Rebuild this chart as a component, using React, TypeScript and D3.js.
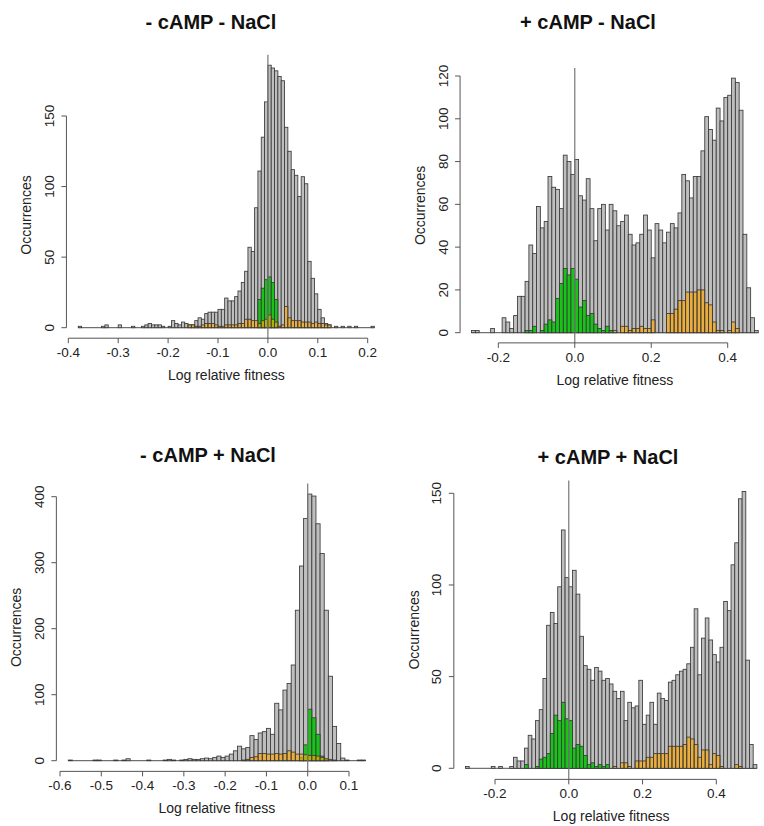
import React from "react";
import * as d3 from "d3";

// ---------- DATA ----------
// Panel 1: - cAMP - NaCl  (bin width 1/150)
const P1_BIN_W = 1 / 150;
const P1_START = -57 / 150;
const P1_GRAY = [1,0,0,0,0,0,0,1,2,0, 0,0,2,0,0,0,1,0,0,1, 2,3,2,2,2,1,0,1,5,3, 2,4,3,2,2,5,7,6,10,11, 11,11,13,13,21,19,19,22,26,32, 40,57,54,85,111,135,160,186,184,182, 178,175,142,125,112,108,93,107,102,47, 35,24,13,7,3,2,0,1,0,1, 0,1,0,1,0,0,0,0,1];
const P1_GREEN_START = -3 / 150;
const P1_GREEN = [20,28,34,36,32,20];
const P1_ORANGE_START = -24 / 150;
const P1_ORANGE = [2,2,1,1,2,3,3,3,2,1, 1,2,2,2,2,3,3,6,6,5, 5,3,5,6,9,6,4,1,2,15, 7,5,5,5,4,4,4,3,4,3, 3,2,2];

// Panel 2: + cAMP - NaCl (bin width 0.01)
const P2_BIN_W = 0.01;
const P2_START = -0.27;
const P2_GRAY = [1,1,0,0,0,2,0,0,7,5, 2,8,17,17,24,41,37,59,49,52, 73,68,67,58,83,80,74,81,64,62, 72,58,43,58,60,48,60,57,50,52, 55,46,41,42,46,55,48,35,51,48, 42,47,51,49,56,74,71,63,73,73, 85,101,95,90,105,99,110,111,119,117, 104,46,21,7,1];
const P2_GREEN_START = -0.13;
const P2_GREEN = [1,1,3,0,1,4,6,5,16,23, 30,27,30,25,12,15,8,9,4,2, 1,3,1];
const P2_ORANGE_START = 0.10;
const P2_ORANGE = [1,0,3,3,1,2,2,3,2,2, 6,0,0,0,9,9,11,15,15,19, 19,19,20,20,14,13,5,1,1,0, 1,5,2];

// Panel 3: - cAMP + NaCl (bin width 0.01)
const P3_BIN_W = 0.01;
const P3_START = -0.58;
const P3_GRAY = [1,0,0,0,0,0,1,1,0,0, 0,1,0,1,3,0,0,0,0,1, 0,0,0,1,2,1,0,1,2,3, 2,2,3,4,3,5,7,5,7,10, 15,22,18,20,38,32,42,44,49,40, 87,77,107,117,145,228,295,367,404,401, 359,314,228,128,52,26,4,1,0,0, 1,1];
const P3_GREEN_START = -0.02;
const P3_GREEN = [5,24,78,65,40,7,2];
const P3_ORANGE_START = -0.16;
const P3_ORANGE = [1,2,5,6,11,11,10,10,11,10, 11,15,13,10,10,9,8,8,7,5, 3,2,1];

// Panel 4: + cAMP + NaCl (bin width 0.01)
const P4_BIN_W = 0.01;
const P4_START = -0.28;
const P4_GRAY = [1,0,0,0,0,0,0,1,0,1, 0,0,1,6,4,4,11,18,16,26, 32,49,78,85,79,99,130,104,99,108, 95,72,56,54,48,55,53,48,49,46, 42,38,42,26,36,33,34,48,24,29, 36,24,41,38,37,47,48,51,53,54, 57,66,87,51,71,82,70,62,58,66, 91,86,111,123,147,151,59,13,2];
const P4_GREEN_START = -0.12;
const P4_GREEN = [2,0,0,1,5,6,8,19,29,26, 36,27,26,11,13,12,7,2,3,1, 2,1,2];
const P4_ORANGE_START = 0.12;
const P4_ORANGE = [1,0,3,3,1,0,4,4,4,6, 6,8,8,8,8,12,12,12,12,13, 17,16,13,6,10,10,2,8,7,1, 0,0,0,2,1];

// Tick values
const X_TICKS_1 = [-0.4, -0.3, -0.2, -0.1, 0, 0.1, 0.2];
const Y_TICKS_1 = [0, 50, 100, 150];
const X_TICKS_2 = [-0.2, 0, 0.2, 0.4];
const Y_TICKS_2 = [0, 20, 40, 60, 80, 100, 120];
const X_TICKS_3 = [-0.6, -0.5, -0.4, -0.3, -0.2, -0.1, 0, 0.1];
const Y_TICKS_3 = [0, 100, 200, 300, 400];
const X_TICKS_4 = [-0.2, 0, 0.2, 0.4];
const Y_TICKS_4 = [0, 50, 100, 150];

const TITLES = ["- cAMP - NaCl", "+ cAMP - NaCl", "- cAMP + NaCl", "+ cAMP + NaCl"];
const X_LABEL = "Log relative fitness";
const Y_LABEL = "Occurrences";

// ---------- STYLE ----------
const FONT = "'Liberation Sans', Arial, sans-serif";
const GRAY_FILL = "#bebebe";
const BAR_STROKE = "#3a3a3a";
const GREEN_FILL = "#19c419";
const ORANGE_FILL = "rgba(255,165,0,0.66)";
const AXIS_COLOR = "#555";
const TEXT_COLOR = "#222";

type Series = { start: number; values: number[] };

type PanelProps = {
  title: string;
  binW: number;
  gray: Series;
  green: Series;
  orange: Series;
  xTicks: number[];
  yTicks: number[];
  xRef: [number, number, number, number];
  yRef: [number, number, number, number];
  titlePos: [number, number];
  yLabelY?: number;
};

function Bars({ s, binW, x, y, fill }: { s: Series; binW: number; x: any; y: any; fill: string }) {
  return (
    <g>
      {s.values.map((c, i) => {
        if (c <= 0) return null;
        const x0 = x(s.start + i * binW);
        const x1 = x(s.start + (i + 1) * binW);
        return (
          <rect
            key={i}
            x={x0}
            y={y(c)}
            width={x1 - x0}
            height={y(0) - y(c)}
            fill={fill}
            stroke={BAR_STROKE}
            strokeWidth={0.85}
          />
        );
      })}
    </g>
  );
}

function Panel(p: PanelProps) {
  const x = d3.scaleLinear().domain([p.xRef[0], p.xRef[2]]).range([p.xRef[1], p.xRef[3]]);
  const y = d3.scaleLinear().domain([p.yRef[0], p.yRef[2]]).range([p.yRef[1], p.yRef[3]]);
  const n = p.gray.values.length;
  const dMin = p.gray.start;
  const dMax = p.gray.start + n * p.binW;
  const ext = 0.04 * (dMax - dMin);
  const ymax = d3.max(p.gray.values) as number;
  const plotLeft = x(dMin - ext);
  const plotRight = x(dMax + ext);
  const plotTop = y(ymax * 1.04);
  const plotBottom = y(-ymax * 0.04);
  const midY = p.yLabelY ?? (plotTop + plotBottom) / 2;
  const midX = (plotLeft + plotRight) / 2;
  const fmt = (v: number) => (Math.abs(v) < 1e-9 ? "0.0" : v.toFixed(1));
  const xt0 = x(p.xTicks[0]);
  const xt1 = x(p.xTicks[p.xTicks.length - 1]);
  const yt1 = y(p.yTicks[p.yTicks.length - 1]);
  return (
    <g>
      <text x={p.titlePos[0]} y={p.titlePos[1]} textAnchor="middle" fontFamily={FONT} fontWeight="bold" fontSize={20} fill="#111">
        {p.title}
      </text>
      <line x1={x(dMin)} x2={x(dMax)} y1={y(0)} y2={y(0)} stroke={BAR_STROKE} strokeWidth={0.9} />
      <Bars s={p.gray} binW={p.binW} x={x} y={y} fill={GRAY_FILL} />
      <Bars s={p.green} binW={p.binW} x={x} y={y} fill={GREEN_FILL} />
      <Bars s={p.orange} binW={p.binW} x={x} y={y} fill={ORANGE_FILL} />
      <line x1={x(0)} x2={x(0)} y1={plotTop} y2={plotBottom} stroke="#777" strokeWidth={1.2} />
      <line x1={xt0} x2={xt1} y1={plotBottom} y2={plotBottom} stroke={AXIS_COLOR} strokeWidth={1} />
      {p.xTicks.map((t, i) => (
        <g key={"xt" + i}>
          <line x1={x(t)} x2={x(t)} y1={plotBottom} y2={plotBottom + 5} stroke={AXIS_COLOR} strokeWidth={1} />
          <text x={x(t)} y={plotBottom + 19} textAnchor="middle" fontFamily={FONT} fontSize={13.5} fill={TEXT_COLOR}>
            {fmt(t)}
          </text>
        </g>
      ))}
      <text x={midX} y={plotBottom + 42} textAnchor="middle" fontFamily={FONT} fontSize={14} fill={TEXT_COLOR}>
        {X_LABEL}
      </text>
      <line x1={plotLeft} x2={plotLeft} y1={y(0)} y2={yt1} stroke={AXIS_COLOR} strokeWidth={1} />
      {p.yTicks.map((t, i) => (
        <g key={"yt" + i}>
          <line x1={plotLeft} x2={plotLeft - 5} y1={y(t)} y2={y(t)} stroke={AXIS_COLOR} strokeWidth={1} />
          <text
            transform={`translate(${plotLeft - 12.5},${y(t)}) rotate(-90)`}
            textAnchor="middle"
            fontFamily={FONT}
            fontSize={13.5}
            fill={TEXT_COLOR}
          >
            {String(t)}
          </text>
        </g>
      ))}
      <text
        transform={`translate(${plotLeft - 35},${midY}) rotate(-90)`}
        textAnchor="middle"
        fontFamily={FONT}
        fontSize={14}
        fill={TEXT_COLOR}
      >
        {Y_LABEL}
      </text>
    </g>
  );
}

export default function App() {
  return (
    <svg
      width={764}
      height={826}
      viewBox="0 0 764 826"
      style={{ position: "absolute", left: 0, top: 0, background: "#fff" }}
    >
      <rect x={0} y={0} width={764} height={826} fill="#fff" />
      <Panel
        title={TITLES[0]}
        binW={P1_BIN_W}
        gray={{ start: P1_START, values: P1_GRAY }}
        green={{ start: P1_GREEN_START, values: P1_GREEN }}
        orange={{ start: P1_ORANGE_START, values: P1_ORANGE }}
        xTicks={X_TICKS_1}
        yTicks={Y_TICKS_1}
        xRef={[-0.4, 68.3, 0.2, 367.7]}
        yRef={[0, 327.7, 150, 116]}
        titlePos={[211, 29]}
        yLabelY={215}
      />
      <Panel
        title={TITLES[1]}
        binW={P2_BIN_W}
        gray={{ start: P2_START, values: P2_GRAY }}
        green={{ start: P2_GREEN_START, values: P2_GREEN }}
        orange={{ start: P2_ORANGE_START, values: P2_ORANGE }}
        xTicks={X_TICKS_2}
        yTicks={Y_TICKS_2}
        xRef={[-0.2, 498.3, 0.4, 727.7]}
        yRef={[0, 332.7, 120, 76]}
        titlePos={[588, 29]}
      />
      <Panel
        title={TITLES[2]}
        binW={P3_BIN_W}
        gray={{ start: P3_START, values: P3_GRAY }}
        green={{ start: P3_GREEN_START, values: P3_GREEN }}
        orange={{ start: P3_ORANGE_START, values: P3_ORANGE }}
        xTicks={X_TICKS_3}
        yTicks={Y_TICKS_3}
        xRef={[-0.6, 60, 0.1, 349]}
        yRef={[0, 760.7, 400, 496.7]}
        titlePos={[208, 462]}
      />
      <Panel
        title={TITLES[3]}
        binW={P4_BIN_W}
        gray={{ start: P4_START, values: P4_GRAY }}
        green={{ start: P4_GREEN_START, values: P4_GREEN }}
        orange={{ start: P4_ORANGE_START, values: P4_ORANGE }}
        xTicks={X_TICKS_4}
        yTicks={Y_TICKS_4}
        xRef={[-0.2, 495, 0.4, 716.3]}
        yRef={[0, 768.3, 150, 493.3]}
        titlePos={[608, 464]}
      />
    </svg>
  );
}
